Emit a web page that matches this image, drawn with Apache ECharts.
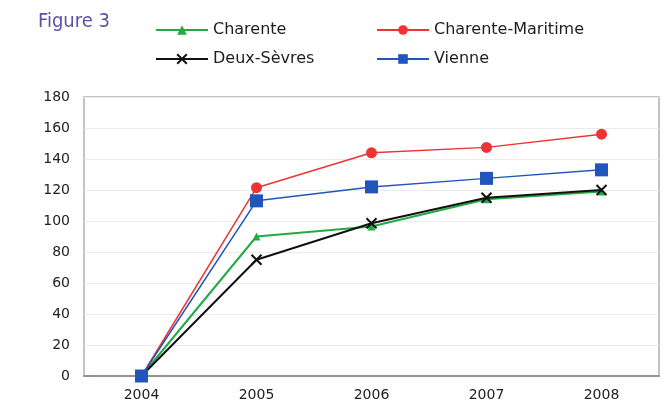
<!DOCTYPE html>
<html><head><meta charset="utf-8">
<script src="https://cdn.jsdelivr.net/npm/echarts@6/dist/echarts.min.js"></script>
<style>html,body{margin:0;padding:0;background:#fff}#c{width:666px;height:413px}</style>
</head><body><div id="c"></div>
<script>
const years = ['2004','2005','2006','2007','2008'];
const charente = [0, 90, 96.5, 114, 119];
const charenteMaritime = [0, 121.5, 144, 147.5, 156];
const deuxSevres = [0, 75, 98.5, 115, 120];
const vienne = [0, 113, 122, 127.5, 133];
const yTicks = {min: 0, max: 180, interval: 20};

const chart = echarts.init(document.getElementById('c'));
const font = 'DejaVu Sans, Liberation Sans, sans-serif';
function leg(name, left, top){
  return {data:[name], left:left, top:top, itemWidth:52, itemHeight:12, padding:0,
    textStyle:{fontFamily:font, fontSize:16, color:'#1e1e1e'}, selectedMode:false};
}
chart.setOption({
  backgroundColor:'#fff',
  animation:false,
  title:{text:'Figure 3', left:38, top:12, padding:0, textStyle:{fontFamily:'DejaVu Sans Condensed, Liberation Sans Narrow, Roboto, sans-serif', fontWeight:'normal', fontSize:20, color:'#5a52a8'}},
  legend:[leg('Charente',155,22), leg('Charente-Maritime',376,22), leg('Deux-Sèvres',155,51), leg('Vienne',376,51)],
  grid:{left:84, right:7, top:97, bottom:37, show:true, borderColor:'#b0b0b0', borderWidth:1.5, backgroundColor:'transparent'},
  xAxis:{type:'category', data:years, boundaryGap:true,
    axisLine:{lineStyle:{color:'#9a9090', width:2}}, axisTick:{show:false},
    axisLabel:{fontFamily:font, fontSize:14, color:'#222', margin:12}},
  yAxis:{type:'value', min:yTicks.min, max:yTicks.max, interval:yTicks.interval,
    axisLine:{show:false}, axisTick:{show:false},
    splitLine:{lineStyle:{color:'#ebebeb', width:1}},
    axisLabel:{fontFamily:font, fontSize:14, color:'#222', margin:14}},
  series:[
    {name:'Charente', type:'line', data:charente, color:'#22aa44', symbol:'triangle', symbolSize:8, lineStyle:{width:2}},
    {name:'Charente-Maritime', type:'line', data:charenteMaritime, color:'#ee3333', symbol:'circle', symbolSize:11, lineStyle:{width:1.5}},
    {name:'Deux-Sèvres', type:'line', data:deuxSevres, color:'#111111', symbol:'path://M-1,-1L1,1M1,-1L-1,1', symbolSize:10, itemStyle:{borderColor:'#111', borderWidth:2}, lineStyle:{width:2}},
    {name:'Vienne', type:'line', data:vienne, color:'#2255bb', symbol:'rect', symbolSize:13, lineStyle:{width:1.5}}
  ]
});
</script></body></html>
